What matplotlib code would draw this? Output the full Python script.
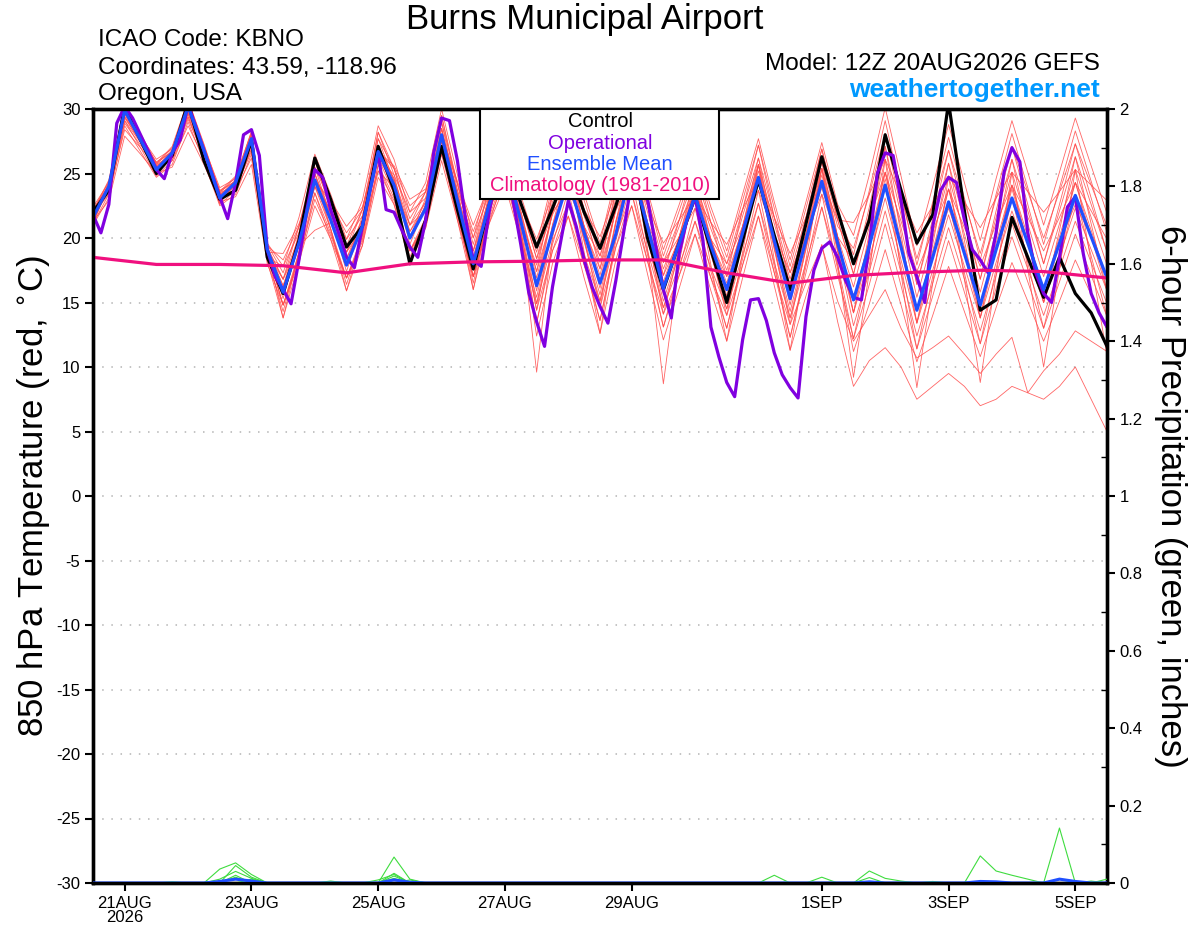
import numpy as np
import pandas as pd
import matplotlib
matplotlib.use('Agg')
import matplotlib.pyplot as plt
import matplotlib.dates as mdates
from matplotlib.patches import Rectangle
from matplotlib.ticker import FixedLocator, MultipleLocator

plt.rcParams['font.family'] = ['Liberation Sans', 'DejaVu Sans']

# 6-hourly ensemble output, 12Z 20 Aug 2026 -> 12Z 5 Sep 2026
times = pd.date_range('2026-08-20 12:00', periods=65, freq='6h')
times_oper = pd.date_range('2026-08-20 12:00', periods=129, freq='3h')
times_clim = pd.date_range('2026-08-20 12:00', periods=17, freq='D')

ens_mean = [21.6, 24.0, 29.9, 27.6, 25.3, 26.6, 30.2, 26.8, 23.1, 24.3, 27.7, 19.1, 15.8, 19.6, 24.5, 21.4,
            17.9, 20.9, 26.7, 24.1, 20.0, 22.3, 28.0, 22.9, 18.0, 22.6, 26.1, 21.3, 16.3, 20.5, 24.5, 20.4,
            16.5, 20.3, 25.5, 20.9, 16.1, 19.6, 23.3, 19.4, 16.0, 20.4, 24.7, 19.8, 15.3, 19.8, 24.4, 19.6,
            15.2, 19.4, 24.1, 19.3, 14.4, 18.5, 22.8, 18.8, 14.8, 19.1, 23.1, 19.6, 16.0, 19.6, 23.3, 20.1,
            16.9]

control = [22.0, 23.7, 30.2, 27.6, 25.0, 26.4, 30.5, 26.0, 23.0, 23.7, 27.6, 18.5, 15.7, 19.8, 26.2, 23.0,
           19.3, 20.9, 27.1, 23.7, 18.0, 21.4, 27.1, 22.2, 17.6, 22.5, 26.5, 22.7, 19.3, 22.3, 25.5, 22.0,
           19.2, 22.5, 26.5, 20.0, 16.0, 19.6, 23.2, 19.1, 15.0, 19.8, 24.5, 20.2, 16.0, 21.1, 26.3, 22.1,
           18.0, 21.4, 28.0, 23.7, 19.6, 21.8, 30.5, 22.1, 14.4, 15.2, 21.6, 18.5, 15.4, 18.5, 15.7, 14.2,
           11.6]

operational = [21.8, 20.4, 22.6, 28.9, 30.2, 29.3, 28.0, 26.7, 25.3, 24.6, 26.6, 27.6, 30.3, 28.6, 26.8, 25.0,
               23.2, 21.5, 24.3, 28.0, 28.4, 26.4, 19.1, 17.0, 16.0, 14.9, 18.3, 22.2, 25.3, 24.7, 22.2, 20.4,
               18.5, 17.7, 20.9, 23.8, 26.6, 22.2, 22.0, 20.6, 19.3, 18.5, 21.4, 26.6, 29.3, 29.1, 26.0, 21.6,
               18.3, 17.8, 22.0, 25.0, 27.0, 23.0, 19.5, 15.8, 13.5, 11.6, 16.2, 19.6, 22.9, 20.9, 18.3, 16.2,
               14.7, 13.4, 16.7, 20.5, 24.5, 25.0, 23.0, 19.5, 16.0, 13.8, 18.8, 21.5, 23.2, 19.8, 13.1, 10.8,
               8.8, 7.7, 12.1, 15.2, 15.3, 13.6, 11.1, 9.4, 8.4, 7.6, 13.9, 17.5, 19.2, 19.7, 18.5, 16.7,
               15.4, 15.2, 19.4, 25.0, 26.6, 26.4, 22.9, 18.8, 17.0, 15.0, 20.9, 23.7, 24.7, 24.3, 21.4, 19.1,
               18.3, 17.3, 20.4, 25.1, 27.0, 25.9, 20.4, 17.3, 15.7, 15.0, 18.5, 22.4, 23.2, 18.8, 15.7, 14.2,
               13.1]

climatology = [18.5, 17.95, 17.95, 17.85, 17.3, 18.0, 18.15, 18.2, 18.3, 18.3, 17.3, 16.5, 17.1, 17.35,
               17.5, 17.4, 16.9]

members = [
    [21.6, 23.8, 29.4, 27.4, 25.3, 26.4, 29.7, 26.6, 23.1, 24.1, 27.2, 18.9, 14.8, 18.6, 23.5, 20.4,
     16.9, 19.9, 25.7, 23.1, 19.0, 21.3, 27.0, 21.9, 17.0, 21.6, 25.1, 20.3, 12.4, 18.0, 21.7, 16.9,
     12.6, 18.3, 22.5, 17.2, 12.1, 16.1, 20.3, 15.9, 12.0, 16.9, 21.7, 16.3, 11.3, 15.5, 19.5, 13.5,
     8.5, 10.5, 11.5, 10.0, 7.5, 8.5, 9.5, 8.5, 7.0, 7.5, 8.5, 8.0, 7.5, 8.5, 10.0, 7.5, 5.0],
    [21.9, 23.6, 28.9, 27.2, 25.6, 26.2, 29.2, 26.4, 23.4, 23.9, 26.7, 18.8, 16.8, 19.4, 20.6, 21.2,
     18.9, 20.7, 25.2, 23.9, 21.0, 22.1, 26.5, 22.7, 19.0, 22.4, 24.6, 21.1, 14.4, 19.0, 21.7, 17.9,
     14.6, 19.3, 22.5, 18.2, 14.1, 17.1, 20.3, 16.9, 14.0, 17.9, 21.7, 17.3, 13.3, 16.5, 19.4, 15.1,
     12.0, 14.0, 16.0, 13.0, 10.7, 11.5, 12.4, 11.0, 9.5, 11.0, 12.3, 8.0, 9.7, 11.0, 12.8, 12.0, 11.2],
    [21.1, 23.4, 29.1, 27.0, 24.8, 26.0, 29.4, 26.2, 22.6, 23.7, 26.9, 18.5, 14.3, 18.9, 24.5, 20.7,
     16.4, 20.2, 26.7, 23.4, 18.5, 21.6, 28.0, 22.2, 16.5, 21.9, 26.1, 20.6, 13.4, 19.5, 23.7, 18.4,
     13.6, 19.8, 24.5, 18.7, 13.1, 17.6, 22.3, 17.4, 13.0, 18.4, 23.7, 17.8, 12.3, 17.8, 23.4, 17.6,
     11.2, 14.9, 19.1, 14.8, 10.4, 14.0, 17.8, 14.3, 10.8, 14.6, 18.1, 15.1, 12.0, 15.1, 18.3, 15.6, 12.9],
    [22.1, 24.1, 29.6, 27.7, 25.8, 26.7, 29.9, 26.9, 23.6, 24.4, 27.4, 19.2, 16.3, 20.1, 25.0, 21.9,
     18.4, 21.4, 27.2, 24.6, 20.5, 22.8, 28.5, 23.4, 18.5, 23.1, 26.6, 21.8, 14.9, 19.8, 22.7, 18.7,
     15.1, 20.1, 23.5, 19.0, 14.6, 17.9, 21.3, 17.7, 14.5, 18.7, 22.7, 18.1, 13.8, 18.1, 22.4, 17.9,
     12.2, 16.4, 21.1, 16.3, 11.4, 15.5, 19.8, 15.8, 11.8, 16.1, 20.1, 16.6, 13.0, 16.6, 20.3, 17.1, 13.9],
    [21.3, 23.9, 29.9, 27.5, 25.0, 26.5, 30.2, 26.7, 22.8, 24.2, 27.7, 19.0, 14.8, 18.4, 23.0, 20.2,
     16.9, 19.7, 25.2, 22.9, 19.0, 21.1, 26.5, 21.7, 17.0, 21.4, 24.6, 20.1, 15.4, 21.0, 24.7, 19.9,
     15.6, 21.3, 25.5, 20.2, 15.1, 19.1, 23.3, 18.9, 15.0, 19.9, 24.7, 19.3, 14.3, 19.3, 24.4, 19.1,
     13.2, 17.4, 22.1, 17.3, 12.4, 16.5, 20.8, 16.8, 12.8, 17.1, 21.1, 17.6, 14.0, 17.6, 21.3, 18.1, 14.9],
    [21.8, 23.4, 28.4, 27.0, 25.5, 26.0, 28.7, 26.2, 23.3, 23.7, 26.2, 18.5, 17.8, 20.4, 24.0, 22.2,
     19.9, 21.7, 26.2, 24.9, 22.0, 23.1, 27.5, 23.7, 20.0, 23.4, 25.6, 22.1, 16.9, 22.0, 25.2, 20.9,
     17.1, 22.3, 26.0, 21.2, 16.6, 20.1, 23.8, 19.9, 16.5, 20.9, 25.2, 20.3, 15.8, 20.3, 24.9, 20.1,
     14.2, 18.4, 23.1, 18.3, 13.4, 17.5, 21.8, 17.8, 13.8, 18.1, 22.1, 18.6, 15.0, 18.6, 22.3, 19.1, 15.9],
    [21.2, 24.0, 30.2, 27.6, 24.9, 26.6, 30.5, 26.8, 22.7, 24.3, 28.0, 19.1, 15.3, 19.9, 25.5, 21.7,
     17.4, 21.2, 27.7, 24.4, 19.5, 22.6, 29.0, 23.2, 17.5, 22.9, 27.1, 21.6, 15.9, 22.0, 26.2, 20.9,
     16.1, 22.3, 27.0, 21.2, 15.6, 20.1, 24.8, 19.9, 15.5, 20.9, 26.2, 20.3, 14.8, 20.3, 25.9, 20.1,
     14.2, 19.4, 25.1, 19.3, 13.4, 18.5, 23.8, 18.8, 13.8, 19.1, 24.1, 19.6, 15.0, 19.6, 24.3, 20.1, 15.9],
    [22.2, 24.1, 29.4, 27.7, 25.9, 26.7, 29.7, 26.9, 23.7, 24.4, 27.2, 19.2, 16.8, 20.1, 24.5, 21.9,
     18.9, 21.4, 26.7, 24.6, 21.0, 22.8, 28.0, 23.4, 19.0, 23.1, 26.1, 21.8, 17.4, 21.8, 24.2, 20.7,
     17.6, 22.1, 25.0, 21.0, 17.1, 19.9, 22.8, 19.7, 17.0, 20.7, 24.2, 20.1, 16.3, 20.1, 23.9, 19.9,
     15.2, 19.4, 24.6, 19.3, 14.4, 18.5, 22.3, 18.8, 14.8, 19.1, 23.8, 19.6, 16.0, 19.6, 22.6, 20.1, 16.9],
    [21.6, 24.2, 30.2, 27.8, 25.3, 26.8, 30.5, 27.0, 23.1, 24.5, 28.0, 19.3, 15.8, 19.9, 25.0, 21.7,
     17.9, 21.2, 27.2, 24.4, 20.0, 22.6, 28.5, 23.2, 18.0, 22.9, 26.6, 21.6, 16.4, 22.0, 25.7, 20.9,
     16.6, 22.3, 26.5, 21.2, 16.1, 20.1, 24.3, 19.9, 16.0, 20.9, 25.7, 20.3, 15.3, 20.3, 25.4, 20.1,
     16.2, 20.9, 26.1, 20.8, 15.4, 20.0, 24.8, 20.3, 15.8, 20.6, 25.1, 21.1, 17.0, 21.1, 25.3, 21.6, 17.9],
    [21.0, 23.1, 28.7, 26.7, 24.7, 25.7, 29.0, 25.9, 22.5, 23.4, 26.5, 18.2, 13.8, 18.1, 23.5, 19.9,
     15.9, 19.4, 25.7, 22.6, 18.0, 20.8, 27.0, 21.4, 16.0, 21.1, 25.1, 19.8, 14.9, 20.8, 24.7, 19.7,
     15.1, 21.1, 25.5, 20.0, 14.6, 18.9, 23.3, 18.7, 14.5, 19.7, 24.7, 19.1, 13.8, 19.1, 24.4, 18.9,
     15.2, 19.9, 25.1, 19.8, 14.4, 19.0, 23.8, 19.3, 14.8, 19.6, 24.1, 20.1, 16.0, 20.1, 24.3, 20.6, 16.9],
    [22.0, 24.4, 30.3, 28.0, 25.7, 27.0, 30.6, 27.2, 23.5, 24.7, 28.1, 19.5, 17.3, 20.9, 25.5, 22.7,
     19.4, 22.2, 27.7, 25.4, 21.5, 23.6, 29.0, 24.2, 19.5, 23.9, 27.1, 22.6, 18.4, 23.3, 26.2, 22.2,
     18.6, 23.6, 27.0, 22.5, 18.1, 21.4, 24.8, 21.2, 18.0, 22.2, 26.2, 21.6, 17.3, 21.6, 25.9, 21.4,
     17.2, 21.9, 27.1, 21.8, 16.4, 21.0, 25.8, 21.3, 16.8, 21.6, 26.1, 22.1, 18.0, 22.1, 26.3, 22.6, 18.9],
    [22.4, 24.3, 29.7, 27.9, 26.1, 26.9, 30.0, 27.1, 23.9, 24.6, 27.5, 19.4, 18.3, 20.9, 24.5, 22.7,
     20.4, 22.2, 26.7, 25.4, 22.5, 23.6, 28.0, 24.2, 20.5, 23.9, 26.1, 22.6, 18.4, 22.0, 23.7, 20.9,
     18.6, 22.3, 24.5, 21.2, 18.1, 20.1, 22.3, 19.9, 18.0, 20.9, 23.7, 20.3, 17.3, 20.3, 23.4, 20.1,
     18.2, 21.4, 25.1, 21.3, 17.4, 20.5, 23.8, 20.8, 17.8, 21.1, 24.1, 21.6, 19.0, 21.6, 24.3, 22.1, 19.9],
    [21.4, 24.2, 30.5, 27.8, 25.1, 26.8, 30.8, 27.0, 22.9, 24.5, 28.3, 19.3, 15.8, 20.4, 26.0, 22.2,
     17.9, 21.7, 28.2, 24.9, 20.0, 23.1, 29.5, 23.7, 18.0, 23.4, 27.6, 22.1, 17.4, 23.3, 27.2, 22.2,
     17.6, 23.6, 28.0, 22.5, 17.1, 21.4, 25.8, 21.2, 17.0, 22.2, 27.2, 21.6, 16.3, 21.6, 26.9, 21.4,
     17.2, 22.4, 28.1, 22.3, 16.4, 21.5, 26.8, 21.8, 16.8, 22.1, 27.1, 22.6, 18.0, 22.6, 27.3, 23.1, 18.9],
    [21.9, 23.9, 29.3, 27.5, 25.6, 26.5, 29.6, 26.7, 23.4, 24.2, 27.1, 19.0, 14.8, 18.9, 24.0, 20.7,
     16.9, 20.2, 26.2, 23.4, 19.0, 21.6, 27.5, 22.2, 17.0, 21.9, 25.6, 20.6, 14.4, 21.0, 25.7, 19.9,
     14.6, 21.3, 26.5, 20.2, 14.1, 19.1, 24.3, 18.9, 14.0, 19.9, 25.7, 19.3, 13.3, 19.3, 25.4, 19.1,
     14.2, 20.4, 27.1, 20.3, 13.4, 19.5, 25.8, 19.8, 13.8, 20.1, 26.1, 20.6, 15.0, 20.6, 26.3, 21.1, 15.9],
    [21.8, 24.2, 30.1, 27.8, 25.5, 26.8, 30.4, 27.0, 23.3, 24.5, 27.9, 19.3, 16.8, 20.9, 26.0, 22.7,
     18.9, 22.2, 28.2, 25.4, 21.0, 23.6, 29.5, 24.2, 19.0, 23.9, 27.6, 22.6, 18.9, 24.0, 27.2, 22.9,
     19.1, 24.3, 28.0, 23.2, 18.6, 22.1, 25.8, 21.9, 18.5, 22.9, 27.2, 22.3, 17.8, 22.3, 26.9, 22.1,
     18.7, 23.7, 29.1, 23.6, 17.9, 22.8, 27.8, 23.1, 18.3, 23.4, 28.1, 23.9, 19.5, 23.9, 28.3, 24.4, 20.4],
    [21.3, 22.9, 27.9, 26.5, 25.0, 25.5, 28.2, 25.7, 22.8, 23.2, 25.7, 18.0, 14.8, 18.1, 22.5, 19.9,
     16.9, 19.4, 24.7, 22.6, 19.0, 20.8, 26.0, 21.4, 17.0, 21.1, 24.1, 19.8, 13.4, 19.0, 22.7, 17.9,
     13.6, 19.3, 23.5, 18.2, 13.1, 17.1, 21.3, 16.9, 13.0, 17.9, 22.7, 17.3, 12.3, 17.3, 22.4, 17.1,
     12.2, 17.9, 24.1, 17.8, 11.4, 17.0, 22.8, 17.3, 11.8, 17.6, 23.1, 18.1, 13.0, 18.1, 23.3, 18.6, 13.9],
    [22.1, 24.5, 30.4, 28.1, 25.8, 27.1, 30.7, 27.3, 23.6, 24.8, 28.2, 19.6, 17.8, 21.6, 26.5, 23.4,
     19.9, 22.9, 28.7, 26.1, 22.0, 24.3, 30.0, 24.9, 20.0, 24.6, 28.1, 23.3, 19.4, 24.5, 27.7, 23.4,
     19.6, 24.8, 28.5, 23.7, 19.1, 22.6, 26.3, 22.4, 19.0, 23.4, 27.7, 22.8, 18.3, 22.8, 27.4, 22.6,
     20.2, 24.9, 30.1, 24.8, 19.4, 24.0, 28.8, 24.3, 19.8, 24.6, 29.1, 25.1, 21.0, 25.1, 29.3, 25.6, 21.9],
    [21.6, 23.9, 29.6, 27.5, 25.3, 26.5, 29.9, 26.7, 23.1, 24.2, 27.4, 19.0, 16.3, 19.6, 24.0, 21.4,
     18.4, 20.9, 26.2, 24.1, 20.5, 22.3, 27.5, 22.9, 18.5, 22.6, 25.6, 21.3, 17.9, 22.8, 25.7, 21.7,
     18.1, 23.1, 26.5, 22.0, 17.6, 20.9, 24.3, 20.7, 17.5, 21.7, 25.7, 21.1, 16.8, 21.1, 25.4, 20.9,
     19.2, 23.4, 28.1, 23.3, 18.4, 22.5, 26.8, 22.8, 18.8, 23.1, 27.1, 23.6, 20.0, 23.6, 27.3, 24.1, 20.9],
    [21.2, 23.9, 30.1, 27.5, 24.9, 26.5, 30.4, 26.7, 22.7, 24.2, 27.9, 19.0, 13.8, 18.9, 25.0, 20.7,
     15.9, 20.2, 27.2, 23.4, 18.0, 21.6, 28.5, 22.2, 16.0, 21.9, 26.6, 20.6, 9.6, 20.0, 25.7, 18.9,
     12.6, 20.3, 26.5, 19.2, 8.7, 18.1, 24.3, 17.9, 12.0, 18.9, 25.7, 18.3, 11.3, 18.3, 25.4, 18.1,
     9.2, 17.4, 26.1, 17.3, 8.4, 16.5, 24.8, 16.8, 8.8, 17.1, 25.1, 17.6, 10.0, 17.6, 25.3, 18.1, 10.9],
    [22.0, 23.8, 29.1, 27.4, 25.7, 26.4, 29.4, 26.6, 23.5, 24.1, 26.9, 18.9, 18.8, 21.1, 24.5, 22.9,
     20.9, 22.4, 26.7, 25.6, 23.0, 23.8, 28.0, 24.4, 21.0, 24.1, 26.1, 22.8, 19.9, 23.3, 24.7, 22.2,
     20.1, 23.6, 25.5, 22.5, 19.6, 21.4, 23.3, 21.2, 19.5, 22.2, 24.7, 21.6, 18.8, 21.6, 24.4, 21.4,
     21.2, 23.4, 26.1, 23.3, 20.4, 22.5, 24.8, 22.8, 20.8, 23.1, 25.1, 23.6, 22.0, 23.6, 25.3, 24.1, 22.9],
]

# 6-hour precipitation (inches), non-zero steps only, keyed by 6-hour step index
member_precip = [
    {8: 0.036, 9: 0.052, 10: 0.022, 19: 0.067, 20: 0.010, 56: 0.070, 57: 0.031, 58: 0.020, 59: 0.010},
    {9: 0.045, 10: 0.015, 19: 0.025, 43: 0.020, 61: 0.142},
    {8: 0.010, 9: 0.030, 10: 0.012, 18: 0.008, 19: 0.022, 49: 0.031, 50: 0.012, 51: 0.005},
    {9: 0.020, 15: 0.005, 19: 0.018, 46: 0.015, 64: 0.010},
    {9: 0.015, 19: 0.012, 49: 0.014, 61: 0.010},
    {5: 0.003, 10: 0.010, 20: 0.008, 53: 0.004, 63: 0.005},
]
mean_precip = {8: 0.004, 9: 0.010, 10: 0.005, 19: 0.008, 20: 0.002, 49: 0.003, 56: 0.004,
               57: 0.003, 61: 0.010, 62: 0.004}

tick_days = ['2026-08-21', '2026-08-23', '2026-08-25', '2026-08-27', '2026-08-29',
             '2026-09-01', '2026-09-03', '2026-09-05']
tick_labels = ['21AUG\n2026', '23AUG', '25AUG', '27AUG', '29AUG', '1SEP', '3SEP', '5SEP']

legend_items = [('Control', 'black'), ('Operational', '#8000e0'),
                ('Ensemble Mean', '#1f4fff'), ('Climatology (1981-2010)', '#f0107f')]


def to_series(d, n=65):
    arr = np.zeros(n)
    for k, v in d.items():
        arr[k] = v
    return arr


fig = plt.figure(figsize=(12, 9.27), dpi=100)
ax = fig.add_axes([93 / 1200, 1 - 883 / 927, 1014 / 1200, 774 / 927])

for m in members:
    ax.plot(times, m, color='#ff4a4a', lw=0.6, alpha=0.85, zorder=2)
ax.plot(times, control, color='black', lw=2.3, zorder=4)
ax.plot(times_oper, operational, color='#8000e0', lw=2.3, zorder=5)
ax.plot(times, ens_mean, color='#1f4fff', lw=2.3, zorder=6)
ax.plot(times_clim, climatology, color='#f0107f', lw=2.3, zorder=7)

ax.set_xlim(times[0], times[-1])
ax.set_ylim(-30, 30)
ax.set_yticks(np.arange(-30, 31, 5))
ax.set_yticklabels([str(v) for v in range(-30, 31, 5)])
for yv in range(-25, 30, 5):
    ax.axhline(yv, color='#b4b4b4', lw=1.1, ls=(0, (1, 5)), zorder=1)

ax.xaxis.set_major_locator(FixedLocator(mdates.date2num(pd.to_datetime(tick_days))))
ax.set_xticklabels(tick_labels, linespacing=1.0)
for lbl in ax.get_xticklabels():
    lbl.set_horizontalalignment('center')
ax.tick_params(axis='both', direction='out', length=6, width=1.5, labelsize=12, pad=3)
ax.set_ylabel('850 hPa Temperature (red, $^{\\circ}$C)', fontsize=25, labelpad=3)

for s in ax.spines.values():
    s.set_linewidth(2.4)

ax2 = ax.twinx()
for p in member_precip:
    ax2.plot(times, to_series(p), color='#3fdc3f', lw=0.8, zorder=3)
ax2.plot(times, to_series(mean_precip), color='#1f4fff', lw=2.2, zorder=4)
ax2.plot(times, np.zeros(65), color='black', lw=1.5, zorder=4)
ax2.set_ylim(0, 2)
ax2.set_yticks(np.arange(0, 2.01, 0.2))
ax2.set_yticklabels(['0', '0.2', '0.4', '0.6', '0.8', '1', '1.2', '1.4', '1.6', '1.8', '2'])
ax2.yaxis.set_minor_locator(MultipleLocator(0.1))
ax2.tick_params(axis='y', which='major', direction='out', length=6, width=1.5, labelsize=12, pad=3)
ax2.tick_params(axis='y', which='minor', direction='in', length=4, width=1.0)
ax2.set_ylabel('6-hour Precipitation (green, inches)', fontsize=25, rotation=270, labelpad=32)
for s in ax2.spines.values():
    s.set_linewidth(2.4)

# legend box
ax2.add_patch(Rectangle((0.3817, 0.8837), 0.2357, 0.1163, transform=ax2.transAxes,
                        facecolor='white', edgecolor='black', lw=1.5, zorder=20, clip_on=False))
for k, (txt, col) in enumerate(legend_items):
    ax2.text(0.5, 0.9835 - k * 0.0276, txt, color=col, fontsize=14.5, ha='center', va='center',
             transform=ax2.transAxes, zorder=21)

# header
fig.text(0.4875, 0.979, 'Burns Municipal Airport', fontsize=25, ha='center', va='center')
fig.text(0.0817, 0.957, 'ICAO Code: KBNO', fontsize=17.5, ha='left', va='center')
fig.text(0.0817, 0.9267, 'Coordinates: 43.59, -118.96', fontsize=17.5, ha='left', va='center')
fig.text(0.0817, 0.8987, 'Oregon, USA', fontsize=17.5, ha='left', va='center')
fig.text(0.9167, 0.931, 'Model: 12Z 20AUG2026 GEFS', fontsize=17.5, ha='right', va='center')
fig.text(0.9167, 0.903, 'weathertogether.net', fontsize=19, ha='right', va='center',
         color='#0099ff', fontweight='bold')

fig.savefig('out.png', dpi=100)
